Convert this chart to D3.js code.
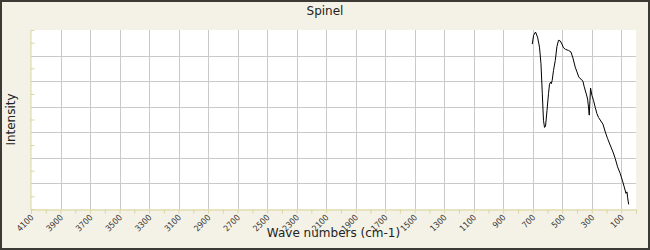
<!DOCTYPE html>
<html>
<head>
<meta charset="utf-8">
<script src="https://cdn.jsdelivr.net/npm/d3@7/dist/d3.min.js"></script>
<style>
  body { margin: 0; background: #fff; }
  svg { display: block; }
</style>
</head>
<body>
<div id="chart"></div>
<script>
// spectrum
const waveNumbers = [703, 694, 681, 667, 654, 644, 635, 627, 620, 613, 603, 593, 586, 579, 574, 568,
  559, 547, 536, 525, 513, 502, 491, 477, 457, 441, 427, 412, 400, 387, 373, 360, 351, 337, 328,
  322, 317, 312, 308, 299, 288, 276, 265, 254, 238, 224, 208, 193, 175, 156, 141, 125, 107, 93,
  80, 68, 61, 57, 50];
const intensity = [6.45, 6.79, 6.92, 6.72, 6.33, 5.68, 4.51, 3.47, 3.19, 3.24, 3.86, 4.51, 4.88, 4.96,
  4.9, 5.03, 5.42, 5.81, 6.35, 6.6, 6.57, 6.45, 6.3, 6.24, 6.2, 6.14, 5.9, 5.55, 5.36, 5.15, 5.08,
  5.0, 4.78, 4.5, 4.3, 3.99, 3.67, 4.25, 4.73, 4.45, 4.25, 3.97, 3.73, 3.58, 3.44, 3.32, 3.01,
  2.76, 2.5, 2.23, 1.98, 1.65, 1.39, 1.13, 0.87, 0.61, 0.67, 0.46, 0.18];

const xTickLabels = ["4100", "3900", "3700", "3500", "3300", "3100", "2900", "2700", "2500", "2300",
  "2100", "1900", "1700", "1500", "1300", "1100", "900", "700", "500", "300", "100"];
const xMinorTicks = d3.range(4100, -1, -100);
const yGridValues = [0, 1, 2, 3, 4, 5, 6, 7];
const yMinorTicks = [0.5, 1.5, 2.5, 3.5, 4.5, 5.5, 6.5];

const W = 650, H = 250;
const margin = { left: 31, right: 14, top: 30, bottom: 41 };
const axisColor = "#dbd59c";

const svg = d3.select("#chart").append("svg")
  .attr("width", W)
  .attr("height", H);

svg.append("rect")
  .attr("x", 1).attr("y", 1)
  .attr("width", W - 2).attr("height", H - 2)
  .attr("fill", "#f4f2e6")
  .attr("stroke", "#3b3a35")
  .attr("stroke-width", 2);

const x = d3.scaleLinear().domain([4100, 0]).range([margin.left, W - margin.right]);
const y = d3.scaleLinear().domain([0, 7]).range([H - margin.bottom, margin.top]);

svg.append("rect")
  .attr("x", margin.left).attr("y", margin.top)
  .attr("width", W - margin.right - margin.left)
  .attr("height", H - margin.bottom - margin.top)
  .attr("fill", "#fff");

// grid
const grid = svg.append("g").attr("stroke", "#c9c9c9").attr("shape-rendering", "crispEdges");
grid.selectAll("line.v").data(xTickLabels.slice(1))
  .enter().append("line")
  .attr("x1", d => Math.round(x(+d)) + 0.5).attr("x2", d => Math.round(x(+d)) + 0.5)
  .attr("y1", margin.top).attr("y2", H - margin.bottom);
grid.selectAll("line.h").data(yGridValues.slice(1, -1))
  .enter().append("line")
  .attr("y1", d => Math.round(y(d)) + 0.5).attr("y2", d => Math.round(y(d)) + 0.5)
  .attr("x1", margin.left).attr("x2", W - margin.right);

// x axis
const xAxis = svg.append("g")
  .attr("transform", "translate(0," + (H - margin.bottom + 0.5) + ")")
  .call(d3.axisBottom(x).tickValues(xMinorTicks).tickSize(4).tickFormat(""));
xAxis.select(".domain").attr("stroke", axisColor);
xAxis.selectAll(".tick line").attr("stroke", axisColor);

svg.append("g").selectAll("text").data(xTickLabels)
  .enter().append("text")
  .attr("transform", d => "translate(" + (x(+d) + 1) + "," + (H - margin.bottom + 7) + ") rotate(-45)")
  .attr("text-anchor", "end")
  .attr("dy", "0.35em")
  .attr("font-family", "DejaVu Sans Condensed, DejaVu Sans, sans-serif")
  .attr("font-size", 8.5)
  .attr("fill", "#333")
  .text(d => d);

// y axis
const yAxis = svg.append("g")
  .attr("transform", "translate(" + (margin.left - 0.5) + ",0)")
  .call(d3.axisRight(y).tickValues(yMinorTicks).tickSize(4).tickFormat(""));
yAxis.select(".domain").attr("stroke", axisColor);
yAxis.selectAll(".tick line").attr("stroke", axisColor);

// spectrum
const line = d3.line()
  .x((d, i) => x(waveNumbers[i]))
  .y(d => y(d));
svg.append("path")
  .datum(intensity)
  .attr("d", line)
  .attr("fill", "none")
  .attr("stroke", "#000")
  .attr("stroke-width", 1);

// titles
svg.append("text")
  .attr("x", 325).attr("y", 15)
  .attr("text-anchor", "middle")
  .attr("font-family", "DejaVu Sans, sans-serif")
  .attr("font-size", 12)
  .attr("fill", "#222")
  .text("Spinel");

svg.append("text")
  .attr("x", (margin.left + W - margin.right) / 2).attr("y", 237)
  .attr("text-anchor", "middle")
  .attr("font-family", "DejaVu Sans, sans-serif")
  .attr("font-size", 12)
  .attr("fill", "#222")
  .text("Wave numbers (cm-1)");

svg.append("text")
  .attr("transform", "translate(15," + ((margin.top + H - margin.bottom) / 2) + ") rotate(-90)")
  .attr("text-anchor", "middle")
  .attr("font-family", "DejaVu Sans, sans-serif")
  .attr("font-size", 12)
  .attr("fill", "#222")
  .text("Intensity");
</script>
</body>
</html>
